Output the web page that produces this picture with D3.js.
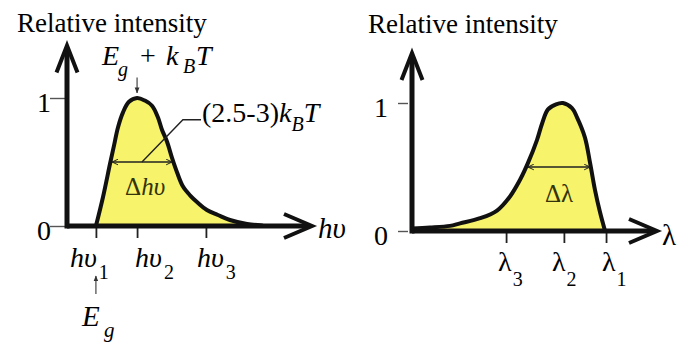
<!DOCTYPE html>
<html>
<head>
<meta charset="utf-8">
<script src="https://cdn.jsdelivr.net/npm/d3@7"></script>
</head>
<body style="margin:0">
<svg id="spectra" width="678" height="342"></svg>
<script>
// ---- Emission spectrum vs photon energy (axis units: 0 = intensity axis, 100 = arrow tip)
const energyX = [11.8, 14.7, 17.6, 19.2, 20.8, 22.9, 25.3, 28.6, 31.8, 34.7, 37.1, 38.8, 40.8, 42.9, 44.9, 47.3, 50.2, 53.5, 57.1, 61.6, 66.5, 73.5, 79.6];
const energyY = [0, 0.227, 0.49, 0.63, 0.77, 0.89, 0.97, 1.0, 0.98, 0.94, 0.85, 0.75, 0.66, 0.53, 0.42, 0.31, 0.24, 0.18, 0.125, 0.086, 0.047, 0.016, 0.004];
const energyTicks = [11.8, 28.6, 56.7];
const energyTickSubs = ["1", "2", "3"];
const energyFwhm = [18.4, 42.9];

// ---- Emission spectrum vs wavelength
const waveX = [0, 7.3, 15.5, 19.6, 27.8, 34.7, 40.0, 44.1, 47.3, 51.0, 53.1, 55.5, 58.8, 61.6, 65.3, 67.3, 70.6, 72.7, 74.7, 76.7, 78.8];
const waveY = [0.02, 0.027, 0.04, 0.06, 0.10, 0.16, 0.27, 0.40, 0.53, 0.71, 0.84, 0.95, 0.99, 1.0, 0.96, 0.89, 0.73, 0.53, 0.32, 0.15, 0];
const waveTicks = [38.4, 62.0, 79.2];
const waveTickSubs = ["3", "2", "1"];
const waveFwhm = [47.3, 72.7];

const yTicks = [0, 1];
const yTickLabels = ["0", "1"];
const halfMax = 0.5;

const svg = d3.select("#spectra");
const ink = "#111";
const fillYellow = "#f7f36a";
const SERIF = '"Liberation Serif"';

// every label uses the same Times-style face
function label(parent) {
  return parent.append("text").style("font-family", SERIF);
}

// titles
label(svg).attr("x", 17).attr("y", 32).attr("font-size", 27).text("Relative intensity");
label(svg).attr("x", 368).attr("y", 33).attr("font-size", 27).text("Relative intensity");

// arrowheads
const defs = svg.append("defs");
defs.append("marker")
  .attr("id", "chev").attr("viewBox", "0 0 10 10").attr("refX", 9.5).attr("refY", 5)
  .attr("markerWidth", 7).attr("markerHeight", 7).attr("markerUnits", "userSpaceOnUse")
  .attr("orient", "auto-start-reverse")
  .append("path").attr("d", "M1,1 L9.5,5 L1,9").attr("fill", "none").attr("stroke", "#222").attr("stroke-width", 1.4);
defs.append("marker")
  .attr("id", "tip").attr("viewBox", "0 0 10 10").attr("refX", 9).attr("refY", 5)
  .attr("markerWidth", 6).attr("markerHeight", 6).attr("markerUnits", "userSpaceOnUse")
  .attr("orient", "auto")
  .append("path").attr("d", "M0,1 L10,5 L0,9 Z").attr("fill", "#333");

const x = d3.scaleLinear().domain([0, 100]).range([0, 245]);
const y = d3.scaleLinear().domain([0, 1]).range([0, -128]);

function panel(cfg) {
  const g = svg.append("g").attr("transform", `translate(${cfg.ox},${cfg.oy})`);
  const pts = cfg.xs.map((v, i) => [v, cfg.ys[i]]);

  // filled spectrum
  g.append("path").datum(pts)
    .attr("d", d3.area().x(d => x(d[0])).y0(y(0)).y1(d => y(d[1])).curve(d3.curveCatmullRom.alpha(0.5)))
    .attr("fill", fillYellow);

  // tick marks via axes
  const xa = g.append("g").call(d3.axisBottom(x).tickValues(cfg.ticks).tickSize(12).tickFormat(""));
  xa.select(".domain").remove();
  xa.selectAll(".tick line").attr("stroke", "#222").attr("stroke-width", 1.8);
  const ya = g.append("g").call(d3.axisLeft(y).tickValues(yTicks).tickSize(cfg.yTickLen).tickFormat(""));
  ya.select(".domain").remove();
  ya.selectAll(".tick line").attr("stroke", "#555").attr("stroke-width", 1.4)
    .attr("transform", `translate(${-cfg.yTickGap},0)`);

  // axes with open arrowheads
  const x1 = x(100), yTop = y(cfg.yMax);
  g.append("path").attr("d", `M${x(0)},${y(0)} H${x1 - 3}`)
    .attr("stroke", ink).attr("stroke-width", 5).attr("fill", "none");
  g.append("path").attr("d", `M${x1 - 28},${-12} L${x1},0 L${x1 - 28},12`)
    .attr("stroke", ink).attr("stroke-width", 4).attr("fill", "none").attr("stroke-linejoin", "miter");
  g.append("path").attr("d", `M${x(0)},${y(0) + 2.5} V${yTop + 3}`)
    .attr("stroke", ink).attr("stroke-width", 5).attr("fill", "none");
  g.append("path").attr("d", `M${-10.5},${yTop + 27} L0,${yTop} L${10.5},${yTop + 27}`)
    .attr("stroke", ink).attr("stroke-width", 4).attr("fill", "none").attr("stroke-linejoin", "miter");

  // spectrum outline
  g.append("path").datum(pts)
    .attr("d", d3.line().x(d => x(d[0])).y(d => y(d[1])).curve(d3.curveCatmullRom.alpha(0.5)))
    .attr("fill", "none").attr("stroke", ink).attr("stroke-width", 4).attr("stroke-linecap", "round");

  // FWHM double arrow
  g.append("line")
    .attr("x1", x(cfg.fwhm[0])).attr("x2", x(cfg.fwhm[1]))
    .attr("y1", y(halfMax)).attr("y2", y(halfMax))
    .attr("stroke", "#222").attr("stroke-width", 1.4)
    .attr("marker-start", "url(#chev)").attr("marker-end", "url(#chev)");

  // y tick labels
  yTicks.forEach((v, i) => {
    label(g).attr("x", cfg.yLabelDx).attr("y", y(v) + 14)
      .attr("text-anchor", "middle").attr("font-size", 28)
      .text(yTickLabels[i]);
  });

  return g;
}

const left = panel({ ox: 67, oy: 226, xs: energyX, ys: energyY, ticks: energyTicks, fwhm: energyFwhm,
  yMax: 1.41, yTickLen: 15, yTickGap: 2, yLabelDx: -23 });
const right = panel({ ox: 412, oy: 231, xs: waveX, ys: waveY, ticks: waveTicks, fwhm: waveFwhm,
  yMax: 1.39, yTickLen: 10, yTickGap: 4, yLabelDx: -31 });

// energy tick labels (hυ with subscript)
const hvShift = [-26, -2, -9];
energyTicks.forEach((t, i) => {
  const tx = label(left).attr("x", x(t) + hvShift[i]).attr("y", 41);
  tx.append("tspan").attr("font-style", "italic").attr("font-size", 28).text("hυ");
  tx.append("tspan").attr("font-size", 20).attr("dx", 2).attr("dy", 12).text(energyTickSubs[i]);
});
// wavelength tick labels
const lamShift = [-8, -12, -4];
waveTicks.forEach((t, i) => {
  const tx = label(right).attr("x", x(t) + lamShift[i]).attr("y", 40);
  tx.append("tspan").attr("font-size", 28).text("λ");
  tx.append("tspan").attr("font-size", 20).attr("dx", 1).attr("dy", 15).text(waveTickSubs[i]);
});

// axis quantity labels
label(left).attr("x", x(100) + 6).attr("y", 12).attr("font-size", 29).attr("font-style", "italic").text("hυ");
label(right).attr("x", x(100) + 5).attr("y", 14).attr("font-size", 29).text("λ");

// FWHM labels
const dh = label(left).attr("x", x(energyFwhm[0]) + 13).attr("y", -31).attr("font-size", 25).attr("fill", "#33330d");
dh.append("tspan").text("Δ");
dh.append("tspan").attr("font-style", "italic").text("hυ");
label(right).attr("x", x(waveFwhm[0]) + 17).attr("y", -29).attr("font-size", 25).attr("fill", "#33330d").text("Δλ");

// peak annotation: Eg + kBT
const peakIdx = energyY.indexOf(d3.max(energyY));
const px = x(energyX[peakIdx]);
left.append("line").attr("x1", px).attr("x2", px).attr("y1", y(1.16)).attr("y2", y(1.04))
  .attr("stroke", "#444").attr("stroke-width", 1.2).attr("marker-end", "url(#tip)");
const eg = label(svg).attr("y", 65).attr("font-size", 28);
eg.append("tspan").attr("x", 102).attr("font-style", "italic").text("E");
eg.append("tspan").attr("x", 118).attr("dy", 11).attr("font-style", "italic").attr("font-size", 20).text("g");
eg.append("tspan").attr("x", 140).attr("dy", -11).text("+");
eg.append("tspan").attr("x", 166).attr("font-style", "italic").text("k");
eg.append("tspan").attr("x", 183).attr("dy", 8).attr("font-style", "italic").attr("font-size", 20).text("B");
eg.append("tspan").attr("x", 196).attr("dy", -8).attr("font-style", "italic").text("T");

// width annotation leader
const leader = [[30.6, halfMax], [47.3, 0.83], [54.7, 0.83]];
left.append("path").attr("d", d3.line().x(d => x(d[0])).y(d => y(d[1]))(leader))
  .attr("fill", "none").attr("stroke", "#222").attr("stroke-width", 1.4);
const wd = label(svg).attr("y", 122).attr("font-size", 28);
wd.append("tspan").attr("x", 202).text("(2.5-3)");
wd.append("tspan").attr("font-style", "italic").text("k");
wd.append("tspan").attr("dy", 9).attr("font-style", "italic").attr("font-size", 20).text("B");
wd.append("tspan").attr("dy", -9).attr("font-style", "italic").text("T");

// band-gap marker below the first tick
const gx = x(energyTicks[0]);
left.append("line").attr("x1", gx).attr("x2", gx).attr("y1", 68).attr("y2", 50)
  .attr("stroke", "#444").attr("stroke-width", 1.2).attr("marker-end", "url(#tip)");
const egb = label(svg).attr("y", 326).attr("font-size", 29);
egb.append("tspan").attr("x", 82).attr("font-style", "italic").text("E");
egb.append("tspan").attr("x", 104).attr("dy", 11).attr("font-style", "italic").attr("font-size", 21).text("g");
</script>
</body>
</html>
